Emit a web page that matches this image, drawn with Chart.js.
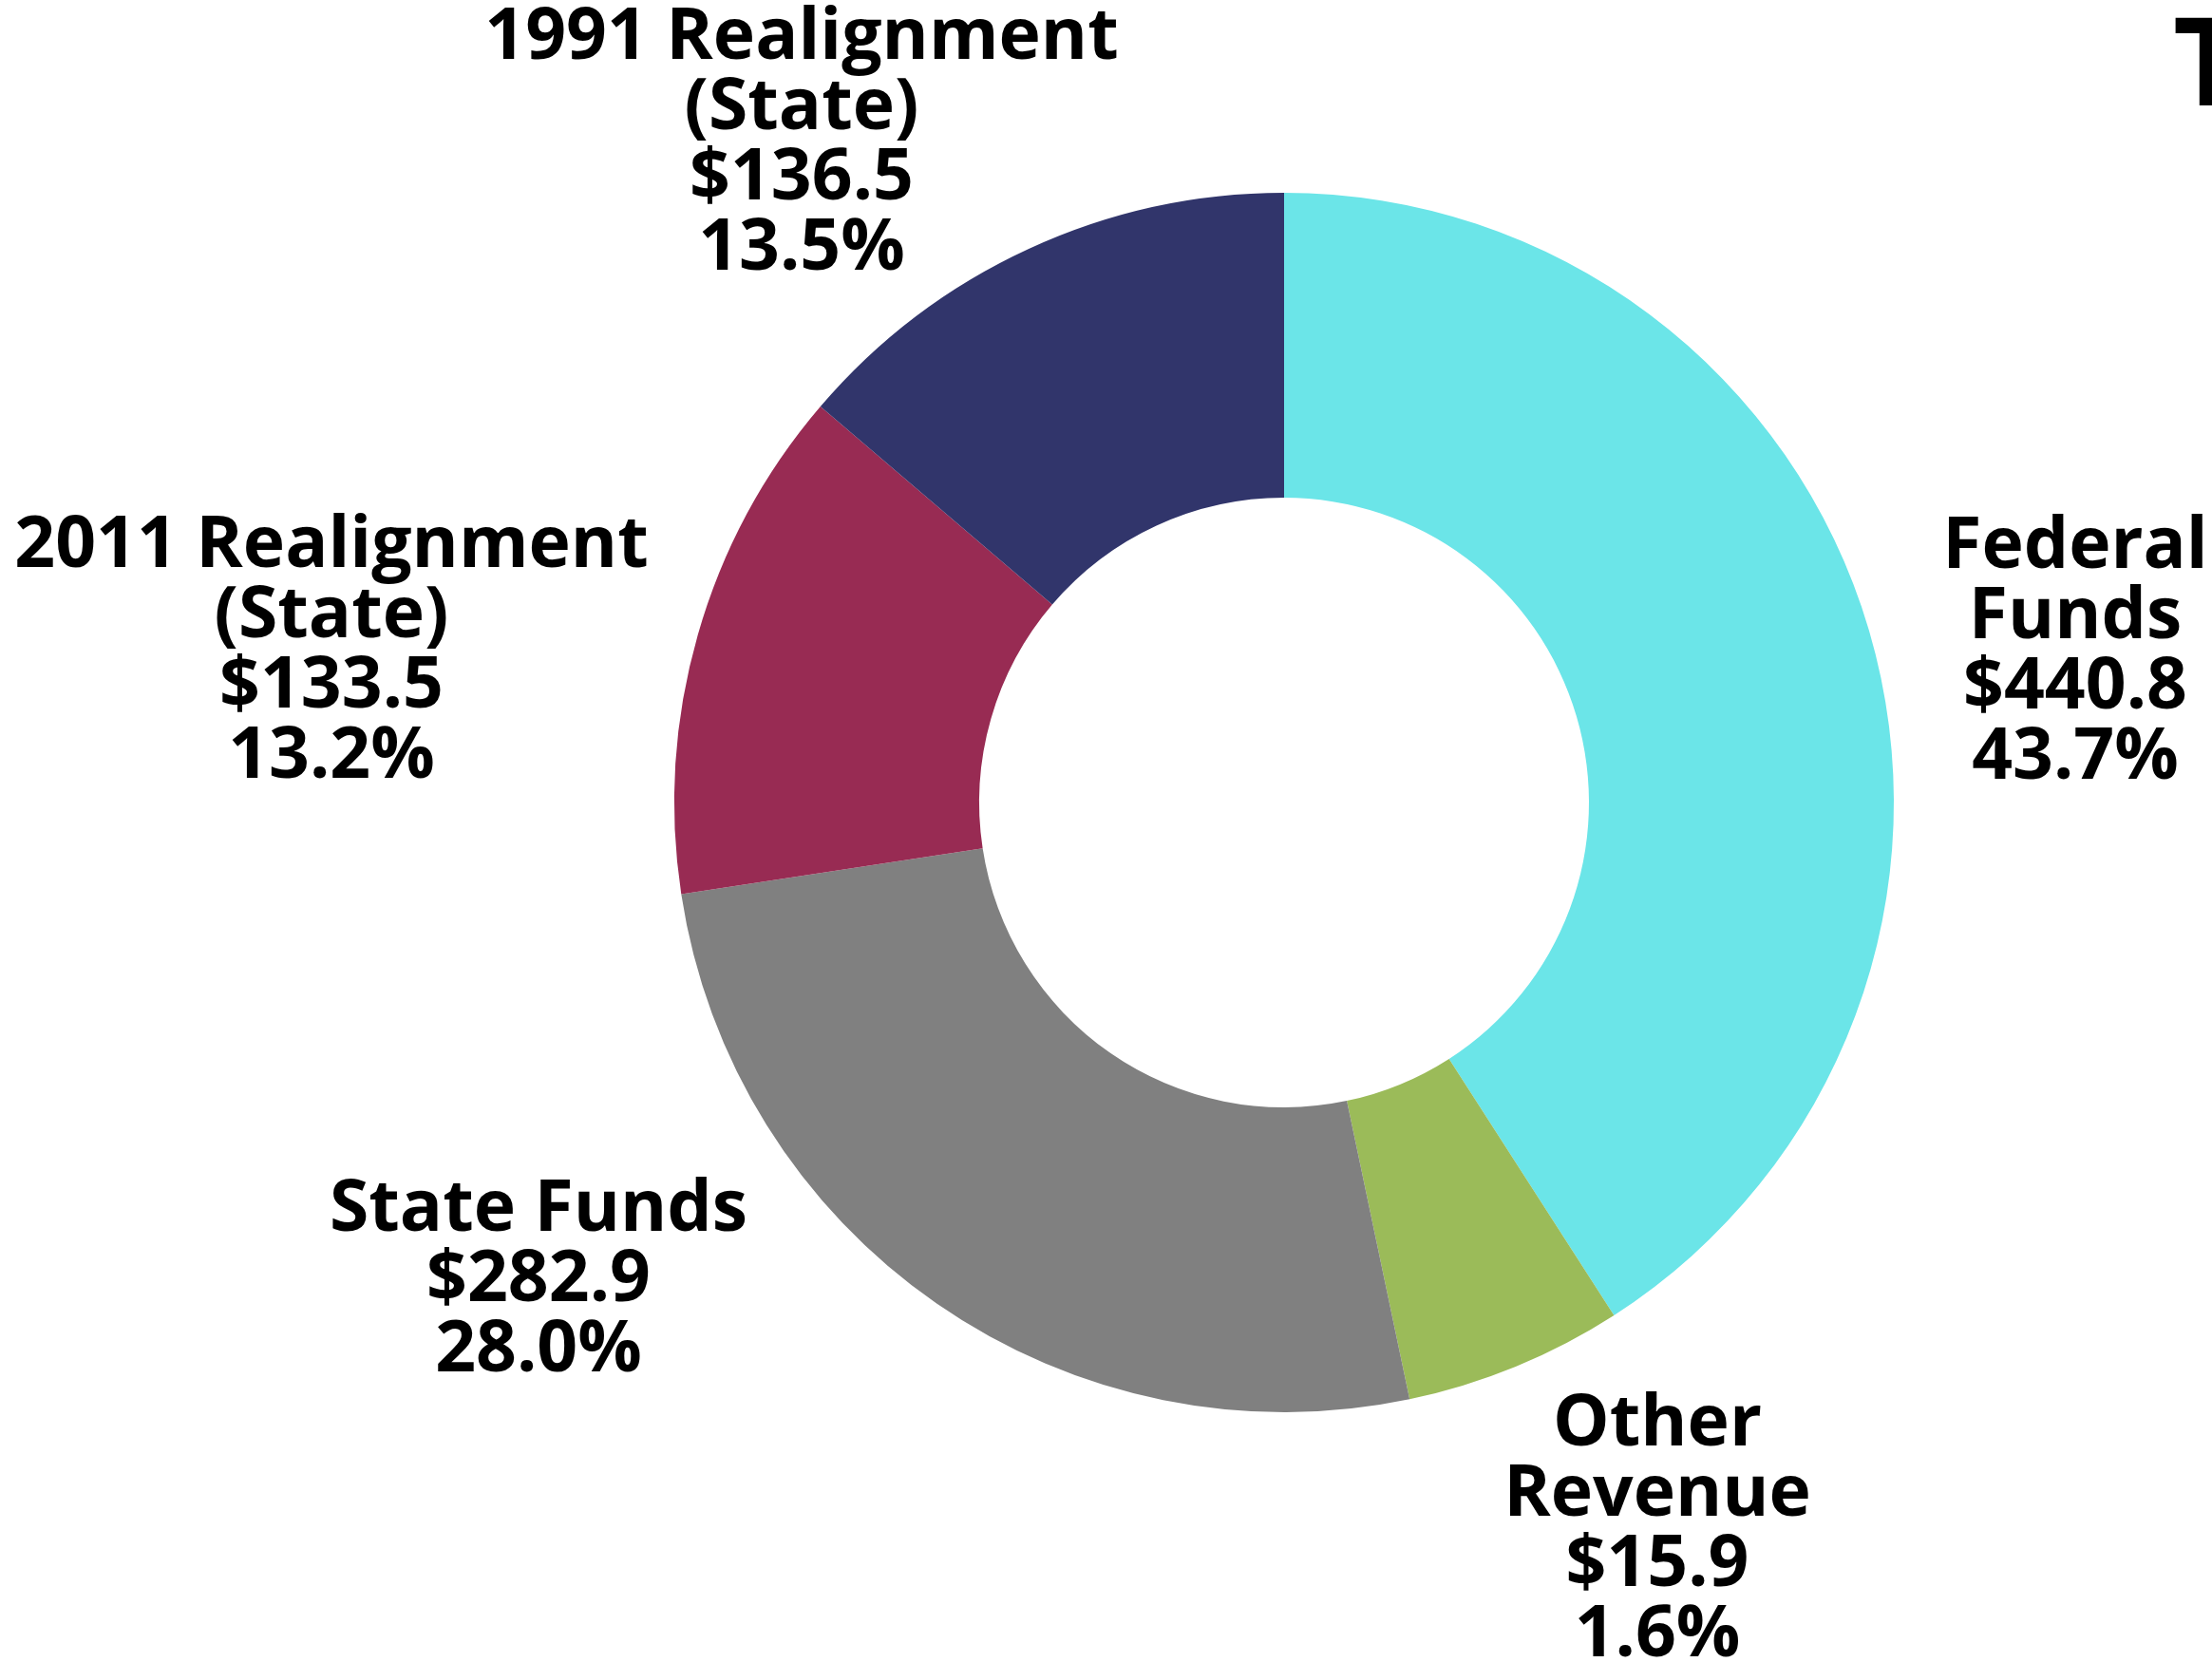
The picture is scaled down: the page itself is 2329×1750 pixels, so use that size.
<!DOCTYPE html>
<html>
<head>
<meta charset="utf-8">
<title>Revenue by Source</title>
<script src="https://cdn.jsdelivr.net/npm/chart.js@4.4.1/dist/chart.umd.min.js"></script>
<style>
    html, body { margin: 0; padding: 0; background: #ffffff; }
    canvas { display: block; }
</style>
</head>
<body>
<canvas id="revenueChart" width="2329" height="1750"></canvas>
<script>
// ============================================
// DATA
// ============================================
const categories = ['Federal Funds', 'Other Revenue', 'State Funds', '2011 Realignment (State)', '1991 Realignment (State)'];
// slice sizes as drawn in the picture (share of the ring, %)
const sliceShares = [40.9, 5.8, 25.9, 13.65, 13.75];
// amounts and percentages printed in the labels
const amounts = [440.8, 15.9, 282.9, 133.5, 136.5];
const percents = [43.7, 1.6, 28.0, 13.2, 13.5];
const nameLines = [
    ['Federal', 'Funds'],
    ['Other', 'Revenue'],
    ['State Funds'],
    ['2011 Realignment', '(State)'],
    ['1991 Realignment', '(State)']
];

const colors = ['#6be5e8', '#9bbb59', '#808080', '#982b53', '#31356b'];

// label anchors: centre x, first baseline y
const labelPos = [
    { x: 2185, y: 598 },
    { x: 1745, y: 1522 },
    { x: 567, y: 1296 },
    { x: 349, y: 597 },
    { x: 844, y: 62 }
];

const LABEL_FONT = 'bold 75px "Open Sans"';
const LINE_HEIGHT = 74;

// ============================================
// LABEL PLUGIN
// ============================================
const labelPlugin = {
    id: 'sliceLabels',
    afterDraw(chart) {
        const ctx = chart.ctx;
        ctx.save();
        ctx.fillStyle = '#000000';
        ctx.font = LABEL_FONT;
        ctx.textAlign = 'center';
        ctx.textBaseline = 'alphabetic';
        categories.forEach((cat, i) => {
            const lines = nameLines[i].concat([
                '$' + amounts[i].toFixed(1),
                percents[i].toFixed(1) + '%'
            ]);
            lines.forEach((line, j) => {
                ctx.fillText(line, labelPos[i].x, labelPos[i].y + j * LINE_HEIGHT);
            });
        });

        // title, cut off at the right edge
        ctx.font = 'bold 130px "Open Sans"';
        ctx.textAlign = 'left';
        ctx.fillText('T', 2288, 111);
        ctx.restore();
    }
};

// ============================================
// CHART
// ============================================
function init() {
    const ctx = document.getElementById('revenueChart').getContext('2d');
    new Chart(ctx, {
        type: 'doughnut',
        data: {
            labels: categories,
            datasets: [{
                data: sliceShares,
                backgroundColor: colors,
                borderWidth: 0,
                hoverOffset: 0,
                offset: 0
            }]
        },
        options: {
            responsive: false,
            animation: false,
            devicePixelRatio: 1,
            cutout: '50%',
            layout: {
                padding: { left: 710, right: 335, top: 203, bottom: 263 }
            },
            plugins: {
                legend: { display: false },
                tooltip: { enabled: false },
                title: { display: false }
            }
        },
        plugins: [labelPlugin]
    });
}

document.addEventListener('DOMContentLoaded', init);
</script>
</body>
</html>
